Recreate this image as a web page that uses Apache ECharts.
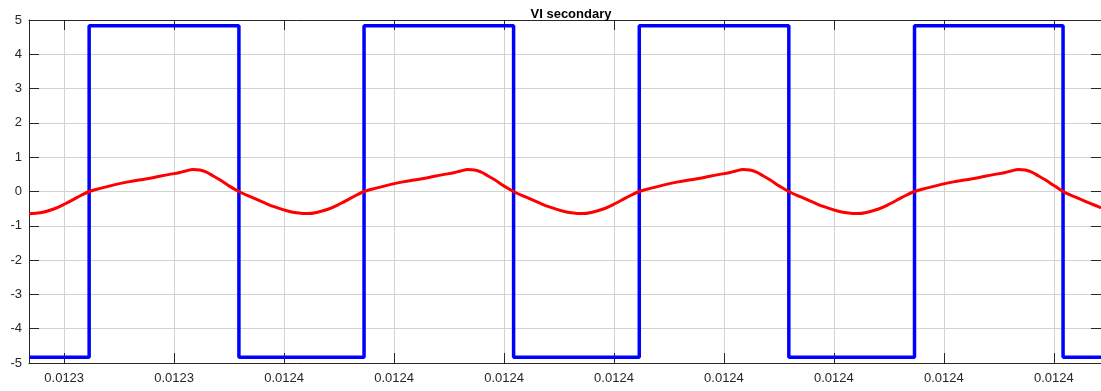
<!DOCTYPE html>
<html>
<head>
<meta charset="utf-8">
<script src="https://cdn.jsdelivr.net/npm/echarts@6/dist/echarts.min.js"></script>
<style>
html,body{margin:0;padding:0;background:#fff;}
#chart{width:1101px;height:391px;}
</style>
</head>
<body>
<div id="chart"></div>
<script>
// x values in microseconds
var xMin = 12326.80;
var xMax = 12424.29;
var xTicks = [12330, 12340, 12350, 12360, 12370, 12380, 12390, 12400, 12410, 12420];
var xTickLabels = ['0.0123', '0.0123', '0.0124', '0.0124', '0.0124', '0.0124', '0.0124', '0.0124', '0.0124', '0.0124'];
var yTicks = [-5, -4, -3, -2, -1, 0, 1, 2, 3, 4, 5];

// Blue square wave: transition times and the level held from each time on
var blueTimes  = [12326.80, 12332.27, 12345.89, 12357.27, 12370.87, 12382.30, 12395.90, 12407.33, 12420.84, 12424.29];
var blueLevels = [-4.83,     4.83,    -4.83,     4.83,    -4.83,     4.83,    -4.83,     4.83,    -4.83,    -4.83];

// Red curve samples
var redTimes = [
  12326.80, 12327.96, 12329.05, 12330.14, 12331.14,
  12332.27, 12333.45, 12334.63, 12335.81, 12336.99, 12338.16, 12339.34, 12340.52, 12341.07, 12341.70, 12342.34, 12342.88, 12343.52, 12344.15, 12345.06,
  12345.89, 12346.98, 12348.07, 12349.15, 12350.24, 12351.33, 12352.15, 12352.96, 12354.05, 12355.14, 12356.14,
  12357.27, 12358.45, 12359.63, 12360.81, 12361.99, 12363.16, 12364.34, 12365.52, 12366.07, 12366.70, 12367.34, 12367.88, 12368.52, 12369.15, 12370.06,
  12370.87, 12371.96, 12373.05, 12374.13, 12375.22, 12376.31, 12377.13, 12377.94, 12379.03, 12380.12, 12381.12,
  12382.30, 12383.48, 12384.66, 12385.84, 12387.02, 12388.19, 12389.37, 12390.55, 12391.10, 12391.73, 12392.37, 12392.91, 12393.55, 12394.18, 12395.09,
  12395.90, 12396.99, 12398.08, 12399.16, 12400.25, 12401.34, 12402.16, 12402.97, 12404.06, 12405.15, 12406.15,
  12407.33, 12408.51, 12409.69, 12410.87, 12412.05, 12413.22, 12414.40, 12415.58, 12416.13, 12416.76, 12417.40, 12417.94, 12418.58, 12419.21, 12420.12,
  12420.84, 12421.93, 12423.02, 12424.10, 12424.29
];
var redValues = [
  -0.65, -0.61, -0.51, -0.35, -0.18,
  0, 0.105, 0.20, 0.28, 0.345, 0.41, 0.485, 0.555, 0.60, 0.64, 0.625, 0.57, 0.46, 0.34, 0.15,
  0, -0.16, -0.31, -0.45, -0.56, -0.63, -0.645, -0.61, -0.51, -0.35, -0.18,
  0, 0.105, 0.20, 0.28, 0.345, 0.41, 0.485, 0.555, 0.60, 0.64, 0.625, 0.57, 0.46, 0.34, 0.15,
  0, -0.16, -0.31, -0.45, -0.56, -0.63, -0.645, -0.61, -0.51, -0.35, -0.18,
  0, 0.105, 0.20, 0.28, 0.345, 0.41, 0.485, 0.555, 0.60, 0.64, 0.625, 0.57, 0.46, 0.34, 0.15,
  0, -0.16, -0.31, -0.45, -0.56, -0.63, -0.645, -0.61, -0.51, -0.35, -0.18,
  0, 0.105, 0.20, 0.28, 0.345, 0.41, 0.485, 0.555, 0.60, 0.64, 0.625, 0.57, 0.46, 0.34, 0.15,
  0, -0.16, -0.31, -0.45, -0.48
];

var FONT = 'Liberation Sans, Arial, Helvetica, sans-serif';
var AX = '#262626';

function zip(a, b) { return a.map(function (v, i) { return [v, b[i]]; }); }

var chart = echarts.init(document.getElementById('chart'), null, {renderer: 'canvas'});
chart.setOption({
  animation: false,
  backgroundColor: '#ffffff',
  title: {
    text: 'VI secondary',
    left: 566, top: 3, textAlign: 'center',
    textStyle: {fontFamily: FONT, fontSize: 13, fontWeight: 'bold', color: '#000'}
  },
  grid: {left: 29, right: -3, top: 20, bottom: 28, containLabel: false},
  xAxis: [{
    type: 'value', min: xMin, max: xMax, position: 'bottom',
    axisLine: {show: true, onZero: false, lineStyle: {color: AX, width: 1}},
    axisTick: {show: true, inside: true, length: 10, customValues: xTicks, lineStyle: {color: AX}},
    axisLabel: {
      show: true, margin: 9, customValues: xTicks, color: '#262626',
      fontFamily: FONT, fontSize: 13,
      formatter: function (v) {
        var i = xTicks.indexOf(Math.round(v));
        return i >= 0 ? xTickLabels[i] : '';
      }
    },
    splitLine: {show: true, lineStyle: {color: '#d2d2d2', width: 1}}
  }, {
    type: 'value', min: xMin, max: xMax, position: 'top',
    axisLine: {show: true, onZero: false, lineStyle: {color: AX, width: 1}},
    axisTick: {show: true, inside: true, length: 10, customValues: xTicks, lineStyle: {color: AX}},
    axisLabel: {show: false},
    splitLine: {show: false}
  }],
  yAxis: [{
    type: 'value', min: -5, max: 5, interval: 1, position: 'left',
    axisLine: {show: true, onZero: false, lineStyle: {color: AX, width: 1}},
    axisTick: {show: true, inside: true, length: 10, lineStyle: {color: AX}},
    axisLabel: {show: true, margin: 7, color: '#262626', fontFamily: FONT, fontSize: 13},
    splitLine: {show: true, lineStyle: {color: '#d2d2d2', width: 1}}
  }, {
    type: 'value', min: -5, max: 5, interval: 1, position: 'right',
    axisLine: {show: true, onZero: false, lineStyle: {color: AX, width: 1}},
    axisTick: {show: true, inside: true, length: 10, lineStyle: {color: AX}},
    axisLabel: {show: false},
    splitLine: {show: false}
  }],
  series: [{
    type: 'line', name: 'VI', xAxisIndex: 0, yAxisIndex: 0,
    data: zip(blueTimes, blueLevels), step: 'end', showSymbol: false, symbol: 'none',
    lineStyle: {color: '#0000ff', width: 3.5}, z: 2
  }, {
    type: 'line', name: 'I', xAxisIndex: 0, yAxisIndex: 0,
    data: zip(redTimes, redValues), smooth: 0.4, showSymbol: false, symbol: 'none',
    lineStyle: {color: '#ff0000', width: 3}, z: 3
  }]
});
</script>
</body>
</html>
